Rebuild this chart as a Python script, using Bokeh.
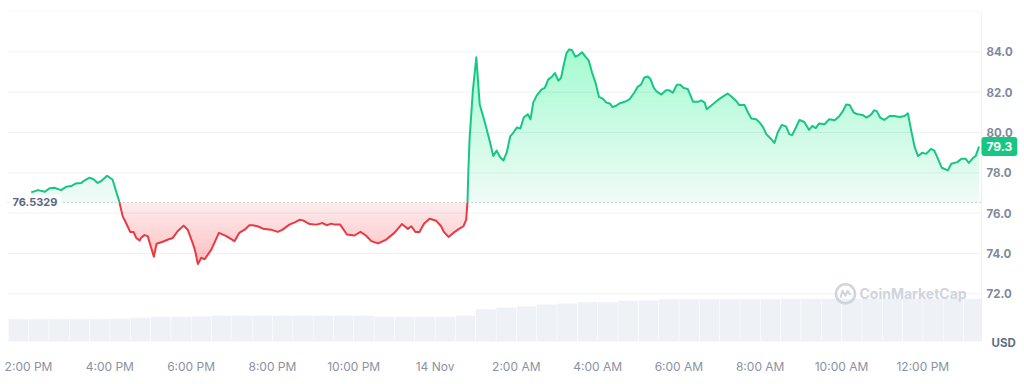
import numpy as np
from bokeh.plotting import figure
from bokeh.models import Range1d, FixedTicker, Label
from bokeh.embed import file_html
from bokeh.resources import INLINE

# ---------------- data ----------------
# minutes after 13 Nov 2:00 PM
T_MIN = [4,14,24,31,38,48,56,63,70,78,83,90,96,102,107,116,124,
         134,139,144,150,155,159,164,166,171,176,181,185,189,198,206,213,220,229,235,243,246,250,255,260,270,281,292,304,311,319,326,
         331,338,346,358,368,375,385,393,400,405,415,425,434,440,447,452,460,470,481,490,498,506,516,528,540,551,560,565,571,577,584,592,602,609,613,620,627,636,642,646,648,
         649,651,656,661,666,673,680,686,691,696,701,706,711,716,721,726,731,737,741,745,750,757,762,767,773,777,782,786,790,794,798,802,807,812,817,822,827,832,837,842,848,853,858,862,868,872,880,887,894,899,904,909,914,918,923,927,934,941,946,951,957,962,967,973,981,988,993,998,1001,1008,1014,1020,
         1027,1032,1037,1045,1049,1057,1062,1067,1074,1079,1084,1089,1096,1101,1106,1112,1118,1123,1127,1132,1138,1145,1152,1157,1162,1167,1175,1182,1190,1197,1202,1207,1212,1218,1224,1231,1237,1244,1248,1252,1257,1263,1271,1278,1286,1293,1298,1303,1308,1313,1319,1325,1332,1337,1342,1348,1357,1362,1371,1377,1383,1388,1394,1398,1403]

PRICE = [77.03,77.14,77.06,77.23,77.26,77.14,77.31,77.34,77.47,77.50,77.63,77.76,77.68,77.50,77.58,77.85,77.67,
         76.57,75.84,75.51,75.07,75.07,74.77,74.64,74.77,74.91,74.86,74.28,73.84,74.48,74.58,74.69,74.77,75.10,75.38,75.18,74.45,74.12,73.47,73.79,73.71,74.20,75.02,74.86,74.61,75.02,75.18,75.40,
         75.40,75.35,75.23,75.18,75.07,75.18,75.43,75.54,75.67,75.64,75.46,75.43,75.51,75.40,75.48,75.43,75.43,74.94,74.89,75.07,74.89,74.61,74.50,74.69,75.02,75.46,75.22,75.35,75.07,75.07,75.48,75.72,75.62,75.35,75.07,74.82,75.02,75.23,75.35,75.67,76.57,
         77.88,79.68,82.13,83.73,81.39,80.57,79.68,78.83,79.10,78.78,78.61,79.02,79.81,80.01,80.25,80.20,80.74,80.90,80.66,81.48,81.83,82.13,82.21,82.62,82.78,82.95,82.57,82.70,83.35,83.93,84.12,84.09,83.76,83.84,83.98,83.76,83.56,82.95,82.46,81.77,81.67,81.48,81.44,81.26,81.34,81.44,81.52,81.64,81.97,82.26,82.37,82.73,82.78,82.65,82.21,82.04,81.88,82.09,82.09,81.97,82.37,82.37,82.21,82.16,81.52,81.52,81.59,81.48,81.15,81.34,81.51,81.67,
         81.83,81.93,81.80,81.55,81.36,81.36,80.99,80.69,80.66,80.50,80.28,79.92,79.68,79.48,80.01,80.38,80.30,79.92,79.87,80.20,80.62,80.52,80.13,80.33,80.22,80.45,80.41,80.66,80.61,80.82,81.06,81.39,81.36,80.99,80.90,80.87,80.74,80.90,81.10,81.06,80.74,80.62,80.82,80.82,80.77,80.82,80.95,80.08,79.27,78.83,78.99,78.94,79.19,79.10,78.73,78.25,78.12,78.45,78.53,78.70,78.70,78.49,78.73,78.83,79.30]

BASE = 76.5329  # open price (reference line)

# 24h volume, 30-minute buckets starting 1:30 PM (USD millions)
VOL = [68,68,68,68,68,69,72,75,75,76,78,78,78,78,78,78,78,78,75,75,75,75,78,98,
       103,107,112,115,120,120,124,125,128,128,128,128,128,128,130,130,130,130,130,130,130,130,130,130]
VOL_START_H = -0.5
VOL_STEP_H = 0.5

X_TICKS = [0, 2, 4, 6, 8, 10, 12, 14, 16, 18, 20, 22]
X_LABELS = ["2:00 PM", "4:00 PM", "6:00 PM", "8:00 PM", "10:00 PM", "14 Nov",
            "2:00 AM", "4:00 AM", "6:00 AM", "8:00 AM", "10:00 AM", "12:00 PM"]
Y_TICKS = [72, 74, 76, 78, 80, 82, 84]
GRID_LEVELS = [72, 74, 76, 78, 80, 82, 84, 86]

assert len(T_MIN) == len(PRICE), (len(T_MIN), len(PRICE))

GREEN = "#16c784"
RED = "#ea3943"
GRID = "#eff2f5"
FONT = "Inter"

t = np.array(T_MIN, dtype=float) / 60.0
v = np.array(PRICE, dtype=float)

# geometry: chart area 974 px wide (24 h), price gutter to its right
X_START = -0.517
PX_H = 23.961 / 974.0              # hours per pixel
AXIS_T = X_START + 974 * PX_H      # right edge of the chart area
FRAME_W = 1014
X_END = X_START + FRAME_W * PX_H
CHART_H = 334                      # chart area height (px)
EXTRA_H = 6                        # strip below the chart area (for the unit label)
Y_BOT, Y_MAX = 69.63, 86.0
PX_V = (Y_MAX - Y_BOT) / CHART_H
Y_MIN = Y_BOT - EXTRA_H * PX_V
VOL_MAX = 1000.0
VOL_MIN = -EXTRA_H * VOL_MAX / CHART_H


def with_crossings(ts, vs, levels):
    out_t = [ts[0]]
    out_v = [vs[0]]
    for i in range(len(ts) - 1):
        t0, t1, v0, v1 = ts[i], ts[i + 1], vs[i], vs[i + 1]
        cr = []
        for L in levels:
            if (v0 - L) * (v1 - L) < 0:
                f = (L - v0) / (v1 - v0)
                cr.append((t0 + f * (t1 - t0), L))
        cr.sort()
        for c in cr:
            out_t.append(c[0])
            out_v.append(c[1])
        out_t.append(t1)
        out_v.append(v1)
    return np.array(out_t), np.array(out_v)


p = figure(width=7 + FRAME_W, height=11 + CHART_H + EXTRA_H + 25, output_backend="svg",
           toolbar_location=None,
           x_range=Range1d(X_START, X_END), y_range=Range1d(Y_MIN, Y_MAX),
           y_axis_location=None, min_border_left=7, min_border_top=11,
           min_border_bottom=25, min_border_right=0)
p.outline_line_color = None
p.background_fill_color = "white"
p.border_fill_color = "white"
p.xgrid.visible = False
p.ygrid.visible = False

# horizontal grid lines (only across the chart area)
p.segment(x0=[X_START] * len(GRID_LEVELS), y0=GRID_LEVELS,
          x1=[AXIS_T] * len(GRID_LEVELS), y1=GRID_LEVELS,
          line_color=GRID, line_width=1)

# volume bars
p.extra_y_ranges = {"vol": Range1d(VOL_MIN, VOL_MAX)}
vl = np.array([VOL_START_H + VOL_STEP_H * i for i in range(len(VOL))])
vr = np.minimum(vl + VOL_STEP_H, AXIS_T)
p.quad(left=vl + 0.4 * PX_H, right=vr - 0.2 * PX_H, top=VOL, bottom=0,
       y_range_name="vol", fill_color="#eef1f5", line_color=None)

# gradient fills (stacked translucent layers)
step = 0.2
g_levels = [BASE + k * step for k in range(0, int((84.3 - BASE) / step) + 1)]
r_levels = [BASE - k * step for k in range(0, int((BASE - 73.3) / step) + 1)]
ft, fv = with_crossings(t, v, g_levels + r_levels)


def layer_alphas(n, o0, o1):
    targets = np.linspace(o0, o1, n)
    al = [targets[0]]
    for k in range(1, n):
        al.append(1 - (1 - targets[k]) / (1 - targets[k - 1]))
    return al


for L, a in zip(g_levels, layer_alphas(len(g_levels), 0.07, 0.32)):
    p.varea(x=ft, y1=L, y2=np.maximum(fv, L), fill_color=GREEN, fill_alpha=a)
for L, a in zip(r_levels, layer_alphas(len(r_levels), 0.10, 0.30)):
    p.varea(x=ft, y1=np.minimum(fv, L), y2=L, fill_color=RED, fill_alpha=a)

# baseline (dotted)
p.line([X_START, AXIS_T], [BASE, BASE], line_color="#a1a9b8",
       line_width=1, line_dash="1 3")

# price line, colored by side of the baseline
lt, lv = with_crossings(t, v, [BASE])
gv = np.where(lv >= BASE - 1e-9, lv, np.nan)
rv = np.where(lv <= BASE + 1e-9, lv, np.nan)
p.line(lt, gv, line_color=GREEN, line_width=2, line_join="round")
p.line(lt, rv, line_color=RED, line_width=2, line_join="round")

# price-scale border
p.segment(x0=[AXIS_T], y0=[Y_BOT], x1=[AXIS_T], y1=[Y_MAX], line_color=GRID, line_width=1)

# x axis
xa = p.xaxis[0]
xa.ticker = FixedTicker(ticks=X_TICKS)
xa.major_label_overrides = {tk: lb for tk, lb in zip(X_TICKS, X_LABELS)}
xa.axis_line_color = None
xa.major_tick_line_color = None
xa.minor_tick_line_color = None
xa.major_label_standoff = 5
xa.major_label_text_font = FONT
xa.major_label_text_font_size = "12px"
xa.major_label_text_color = "#8a92a3"

# price scale labels
for tk in Y_TICKS:
    p.add_layout(Label(x=AXIS_T, y=tk, x_offset=5, text=f"{tk:.1f}",
                       text_baseline="middle", text_align="left",
                       text_font=FONT, text_font_size="11.5px", text_font_style="bold",
                       text_color="#808a9d"))

# baseline label
p.add_layout(Label(x=X_START, y=BASE, x_offset=1, text=f"{BASE:.4f}",
                   text_baseline="middle", text_align="left",
                   text_font=FONT, text_font_size="11px", text_font_style="bold",
                   text_color="#58667e", background_fill_color="white",
                   background_fill_alpha=0.95, padding=4, border_radius=4))

# current price badge
p.add_layout(Label(x=AXIS_T, y=PRICE[-1], x_offset=0, text=f"{PRICE[-1]:.1f}",
                   text_baseline="middle", text_align="left",
                   text_font=FONT, text_font_size="12px", text_font_style="bold",
                   text_color="white", background_fill_color=GREEN,
                   padding=5, border_radius=3))

# currency unit
p.add_layout(Label(x=AXIS_T, y=Y_BOT, x_offset=10, y_offset=-1, text="USD",
                   text_baseline="middle", text_align="left",
                   text_font=FONT, text_font_size="11.5px", text_font_style="bold",
                   text_color="#616e85"))

# watermark
WM_X, WM_Y = AXIS_T - 122 * PX_H, 72.0
p.add_layout(Label(x=WM_X, y=WM_Y, text="CoinMarketCap", text_baseline="middle",
                   text_align="left", text_font=FONT, text_font_size="14px",
                   text_font_style="bold", text_color="#cfd4dd"))
cx = WM_X - 14 * PX_H
p.scatter([cx], [WM_Y], size=19, marker="circle", fill_color=None,
          line_color="#cfd4dd", line_width=2.5)
wave_dx = [-5, -3, 0, 2, 5]
wave_dy = [-4, 3, -2, 3, -1]
p.line([cx + d * PX_H for d in wave_dx], [WM_Y + d * PX_V for d in wave_dy],
       line_color="#cfd4dd", line_width=2, line_join="round")

open("out.html", "w").write(file_html(p, INLINE))
